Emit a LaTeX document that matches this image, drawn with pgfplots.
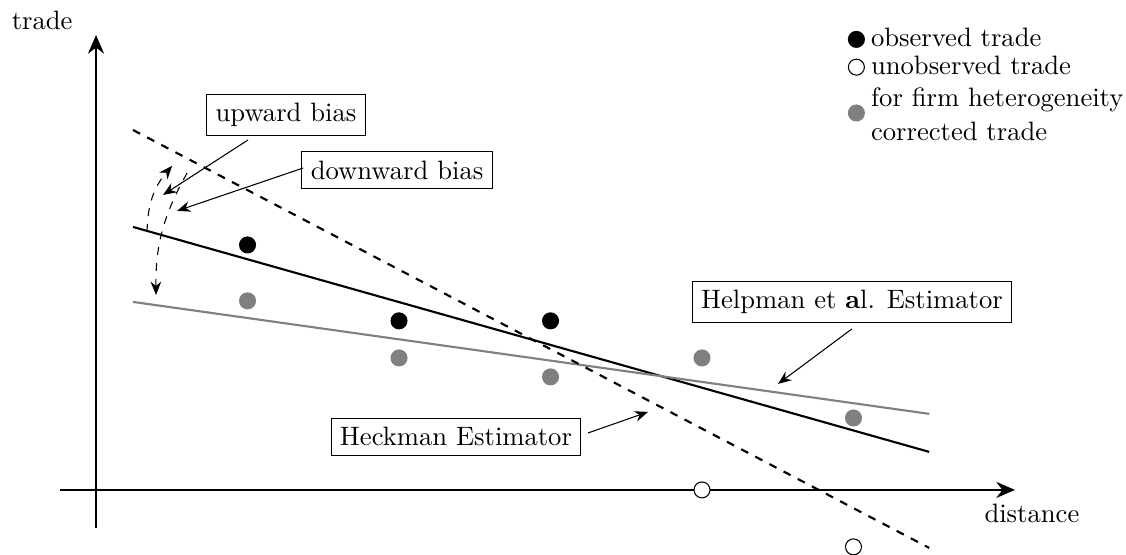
\documentclass[border=0pt]{standalone}
\usepackage{pgfplots}
\pgfplotsset{compat=1.18}
\usetikzlibrary{arrows.meta}

\begin{document}
\begin{tikzpicture}
\begin{axis}[
  x=2cm, y=2cm,
  axis lines=middle,
  axis line style={thick, -{Stealth[length=7pt,width=6pt]}},
  xmin=-0.238, xmax=6.066,
  ymin=-0.251, ymax=3.003,
  xtick=\empty, ytick=\empty,
  clip=false,
  legend style={draw=none, fill=none, at={(axis cs:4.963,3.087)}, anchor=north west,
    font=\normalsize, row sep=-2pt, inner sep=0pt,
    nodes={inner xsep=2.5pt}},
  legend cell align=left,
]
% data points
\addplot[only marks, mark=*, mark size=3pt, black] coordinates {
  (1,1.617) (2,1.116) (3,1.116)};
\addlegendentry{observed trade}
\addplot[only marks, mark=*, mark size=3pt, draw=black, fill=white] coordinates {
  (4,0) (5,-0.376)};
\addlegendentry{unobserved trade}
\addplot[only marks, mark=*, mark size=3pt, gray, fill=gray] coordinates {
  (1,1.248) (2,0.871) (3,0.746) (4,0.871) (5,0.475)};
\addlegendentry{\raisebox{5.5pt}{\begin{tabular}{@{}l@{}}for firm heterogeneity\\[1pt]corrected trade\end{tabular}}}

% fitted lines
\addplot[forget plot, thick, black] coordinates {(0.244,1.736) (5.50,0.251)};
\addplot[forget plot, thick, gray] coordinates {(0.244,1.241) (5.50,0.502)};
\addplot[forget plot, thick, black, dashed] coordinates {(0.244,2.376) (5.50,-0.383)};

% labels and callouts
\node at (axis cs:-0.356,3.102) {trade};
\node at (axis cs:6.178,-0.152) {distance};

\node[draw] at (axis cs:1.254,2.475) {upward bias};
\node[draw] at (axis cs:1.987,2.112) {downward bias};
\node[draw] at (axis cs:4.990,1.241) {Helpman et \textbf{a}l. Estimator};
\node[draw] at (axis cs:2.376,0.350) {Heckman Estimator};

\draw[-{Stealth[length=5pt,width=4pt]}] (axis cs:1.003,2.310) -- (axis cs:0.442,1.947);
\draw[-{Stealth[length=5pt,width=4pt]}] (axis cs:1.367,2.125) -- (axis cs:0.535,1.842);
\draw[-{Stealth[length=5pt,width=4pt]}] (axis cs:4.990,1.063) -- (axis cs:4.502,0.700);
\draw[-{Stealth[length=5pt,width=4pt]}] (axis cs:3.248,0.376) -- (axis cs:3.644,0.515);

\draw[dashed, -{Stealth[length=5pt,width=4pt]}] (axis cs:0.337,1.703) to[bend left=20] (axis cs:0.502,2.139);
\draw[dashed, -{Stealth[length=5pt,width=4pt]}] (axis cs:0.601,2.092) to[bend right=15] (axis cs:0.396,1.287);

\coordinate (bbsw) at (axis cs:-0.634,-0.429);
\coordinate (bbne) at (axis cs:6.799,3.234);
\end{axis}
\pgfresetboundingbox
\path (bbsw) rectangle (bbne);
\end{tikzpicture}
\end{document}
